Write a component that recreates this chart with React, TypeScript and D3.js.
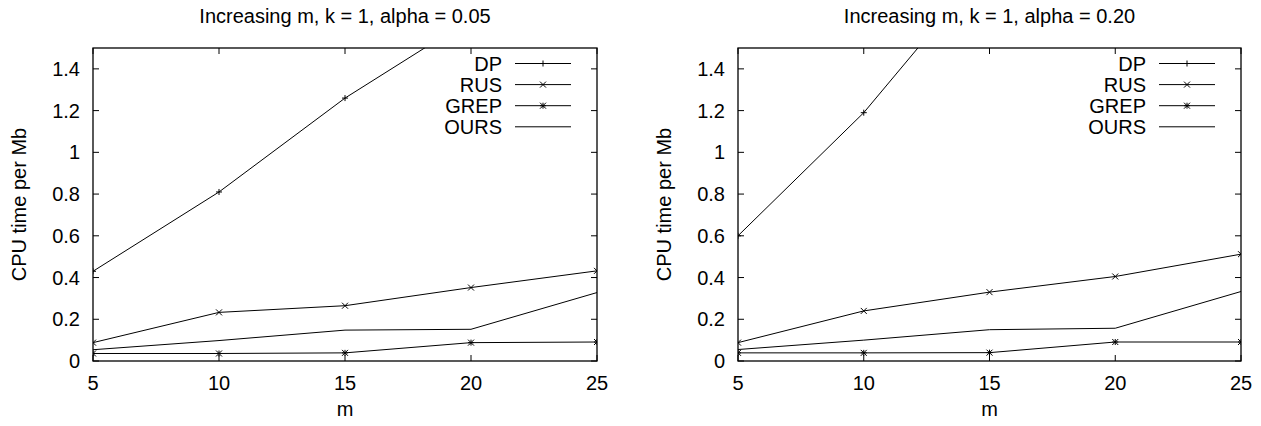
import React, { useEffect, useRef } from 'react';
import * as d3 from 'd3';

// x values (m) and tick labels
const mValues = [5, 10, 15, 20, 25];
const yTicks = [0, 0.2, 0.4, 0.6, 0.8, 1, 1.2, 1.4];
const seriesNames = ['DP', 'RUS', 'GREP', 'OURS'];
const seriesMarkers = ['plus', 'cross', 'star', 'none'];

// alpha = 0.05
const dp05 = [0.43, 0.81, 1.26, 1.64, 2.05];
const rus05 = [0.088, 0.233, 0.265, 0.352, 0.432];
const grep05 = [0.036, 0.036, 0.039, 0.088, 0.091];
const ours05 = [0.054, 0.098, 0.148, 0.152, 0.328];

// alpha = 0.20
const dp20 = [0.6, 1.19, 1.91, 2.6, 3.3];
const rus20 = [0.088, 0.24, 0.33, 0.405, 0.512];
const grep20 = [0.039, 0.039, 0.04, 0.091, 0.091];
const ours20 = [0.055, 0.1, 0.15, 0.157, 0.333];

const FONT = '"Liberation Sans", Arial, sans-serif';
const W = 1261;
const H = 426;

const drawMarker = (g, type, cx, cy) => {
  const s = 3;
  if (type === 'plus' || type === 'star') {
    g.append('line').attr('x1', cx - s).attr('x2', cx + s).attr('y1', cy).attr('y2', cy);
    g.append('line').attr('x1', cx).attr('x2', cx).attr('y1', cy - s).attr('y2', cy + s);
  }
  if (type === 'cross' || type === 'star') {
    g.append('line').attr('x1', cx - s).attr('x2', cx + s).attr('y1', cy - s).attr('y2', cy + s);
    g.append('line').attr('x1', cx - s).attr('x2', cx + s).attr('y1', cy + s).attr('y2', cy - s);
  }
};

const drawPanel = (svg, id, left, right, title, series) => {
  const top = 48;
  const bottom = 361;
  const x = d3.scaleLinear().domain([5, 25]).range([left, right]);
  const y = d3.scaleLinear().domain([0, 1.5]).range([bottom, top]);

  const g = svg.append('g').attr('stroke', '#000').attr('fill', 'none');

  svg.append('clipPath').attr('id', id)
    .append('rect')
    .attr('x', left).attr('y', top)
    .attr('width', right - left).attr('height', bottom - top);

  // ticks on all four sides, pointing inward
  yTicks.forEach(t => {
    g.append('line').attr('x1', left).attr('x2', left + 6).attr('y1', y(t)).attr('y2', y(t));
    g.append('line').attr('x1', right).attr('x2', right - 6).attr('y1', y(t)).attr('y2', y(t));
    svg.append('text')
      .attr('x', left - 13).attr('y', y(t)).attr('dy', '0.35em')
      .attr('text-anchor', 'end')
      .text(d3.format('~g')(t));
  });
  mValues.forEach(m => {
    g.append('line').attr('x1', x(m)).attr('x2', x(m)).attr('y1', bottom).attr('y2', bottom - 6);
    g.append('line').attr('x1', x(m)).attr('x2', x(m)).attr('y1', top).attr('y2', top + 6);
    svg.append('text')
      .attr('x', x(m)).attr('y', 390)
      .attr('text-anchor', 'middle')
      .text(m);
  });

  const line = d3.line().x((d, i) => x(mValues[i])).y(d => y(d));
  const plot = svg.append('g')
    .attr('clip-path', `url(#${id})`)
    .attr('stroke', '#000').attr('fill', 'none').attr('stroke-width', 1);

  series.forEach((vals, k) => {
    plot.append('path').attr('d', line(vals));
    vals.forEach((v, i) => drawMarker(plot, seriesMarkers[k], x(mValues[i]), y(v)));
  });

  // legend
  seriesNames.forEach((name, k) => {
    const ly = top + 15.5 + k * 21.1;
    svg.append('text')
      .attr('x', right - 95).attr('y', ly).attr('dy', '0.35em')
      .attr('text-anchor', 'end')
      .text(name);
    g.append('line').attr('x1', right - 82).attr('x2', right - 26).attr('y1', ly).attr('y2', ly);
    drawMarker(g, seriesMarkers[k], right - 54, ly);
  });

  g.append('rect')
    .attr('x', left).attr('y', top)
    .attr('width', right - left).attr('height', bottom - top)
    .attr('stroke-width', 1.3);

  svg.append('text')
    .attr('x', (left + right) / 2).attr('y', 23)
    .attr('text-anchor', 'middle')
    .text(title);

  svg.append('text')
    .attr('x', (left + right) / 2).attr('y', 416)
    .attr('text-anchor', 'middle')
    .text('m');

  svg.append('text')
    .attr('transform', `translate(${left - 67},${(top + bottom) / 2}) rotate(-90)`)
    .attr('text-anchor', 'middle')
    .text('CPU time per Mb');
};

const App = () => {
  const chartRef = useRef(null);

  useEffect(() => {
    const root = d3.select(chartRef.current);
    root.selectAll('*').remove();

    const svg = root.append('svg')
      .attr('width', W)
      .attr('height', H)
      .attr('viewBox', [0, 0, W, H])
      .style('position', 'absolute')
      .style('left', 0)
      .style('top', 0)
      .style('background', '#fff')
      .attr('font-family', FONT)
      .attr('font-size', 20)
      .attr('fill', '#000');

    drawPanel(svg, 'clipA', 93, 597, 'Increasing m, k = 1, alpha = 0.05', [dp05, rus05, grep05, ours05]);
    drawPanel(svg, 'clipB', 738, 1241, 'Increasing m, k = 1, alpha = 0.20', [dp20, rus20, grep20, ours20]);
  }, []);

  return <div ref={chartRef}></div>;
};

export default App;
